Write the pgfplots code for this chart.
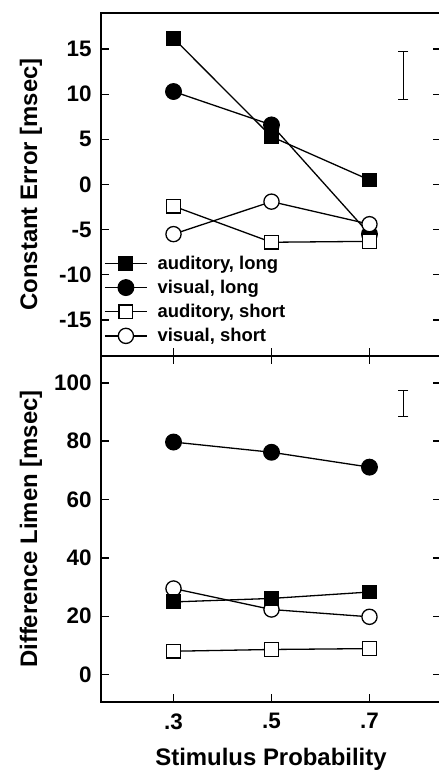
\documentclass[border=0pt]{standalone}
\usepackage{fontspec}
\setmainfont{Liberation Sans}
\usepackage{pgfplots}
\pgfplotsset{compat=1.18}
\begin{document}
\begin{tikzpicture}[x=1bp,y=1bp]
\path[use as bounding box] (0,0) rectangle (439,772);
\pgfplotsset{
 every axis/.append style={
  scale only axis, width=340bp, xmin=0.152, xmax=0.846,
  axis line style={line width=1.4bp},
  tick style={line width=1.4bp, black},
  major tick length=8bp,
  tick align=inside,
  xtick={0.3,0.5,0.7},
  ticklabel style={font=\fontsize{22.5}{26}\selectfont\bfseries},
  label style={font=\fontsize{24}{28}\selectfont\bfseries},
  yticklabel style={xshift=-6bp},
  yticklabel pos=left,
  ylabel style={at={(axis description cs:-0.188,0.5)}, anchor=base},
 },
 fsq/.style={black, line width=1.3bp, mark=square*, mark size=6.8bp, mark options={solid, fill=black}},
 fci/.style={black, line width=1.3bp, mark=*, mark size=7.8bp, mark options={solid, fill=black}},
 osq/.style={black, line width=1.3bp, mark=square*, mark size=6.8bp, mark options={solid, fill=white}},
 oci/.style={black, line width=1.3bp, mark=*, mark size=7.6bp, mark options={solid, fill=white}},
}
\begin{axis}[at={(101bp,416bp)}, anchor=south west, height=343bp,
  ymin=-19, ymax=19, ytick={-15,-10,-5,0,5,10,15},
  yticklabels={-15,-10,-5,0,5,10,15},
  xticklabels={}, xtick pos=bottom,
  ylabel={Constant Error [msec]},
  legend style={at={(axis description cs:0.009,0.295)}, anchor=north west, draw=none, fill=none,
    inner sep=0pt, row sep=7.3bp, column sep=9bp, font=\fontsize{18.5}{21}\selectfont\bfseries, nodes={inner sep=1bp}},
  legend cell align=left,
  legend image code/.code={\draw[mark repeat=2,mark phase=2,#1] plot coordinates {(0bp,0bp) (21bp,0bp) (42bp,0bp)};},
]
\addplot[fsq] coordinates {(0.3,16.2) (0.5,5.3) (0.7,0.5)};
\addlegendentry{auditory, long}
\addplot[fci] coordinates {(0.3,10.3) (0.5,6.6) (0.7,-5.5)};
\addlegendentry{visual, long}
\addplot[osq] coordinates {(0.3,-2.4) (0.5,-6.4) (0.7,-6.3)};
\addlegendentry{auditory, short}
\addplot[oci] coordinates {(0.3,-5.5) (0.5,-1.9) (0.7,-4.4)};
\addlegendentry{visual, short}
\addplot[black, line width=0.9bp, mark=-, mark size=5bp, forget plot] coordinates {(0.769,14.7) (0.769,9.45)};
\end{axis}
\begin{axis}[at={(101bp,70bp)}, anchor=south west, height=346bp,
  ymin=-9.4, ymax=109.2, ytick={0,20,40,60,80,100},
  yticklabels={0,20,40,60,80,100},
  xticklabels={.3,.5,.7}, xtick pos=both, xticklabel pos=bottom,
  xticklabel style={yshift=-8bp},
  xlabel={Stimulus Probability},
  xlabel style={at={(axis description cs:0.5,-0.184)}, anchor=base},
  ylabel={Difference Limen [msec]},
]
\addplot[osq] coordinates {(0.3,8.0) (0.5,8.6) (0.7,8.9)};
\addplot[oci] coordinates {(0.3,29.5) (0.5,22.3) (0.7,19.8)};
\addplot[fsq] coordinates {(0.3,24.9) (0.5,26.1) (0.7,28.3)};
\addplot[fci] coordinates {(0.3,79.7) (0.5,76.2) (0.7,71.1)};
\addplot[black, line width=0.9bp, mark=-, mark size=5bp] coordinates {(0.769,97.3) (0.769,88.6)};
\end{axis}
\end{tikzpicture}
\end{document}
